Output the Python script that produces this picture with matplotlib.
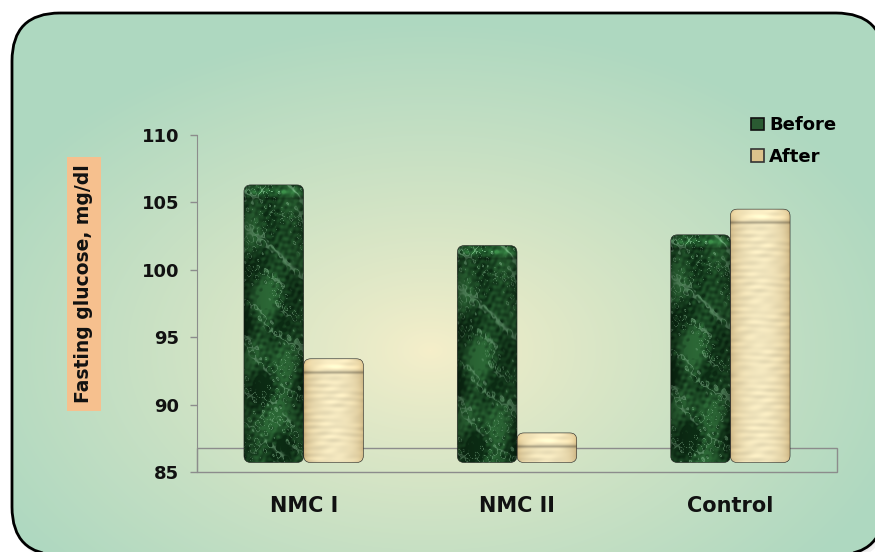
import matplotlib.pyplot as plt
import numpy as np
from matplotlib.patches import FancyBboxPatch, Patch, Polygon, Rectangle

# fasting glucose (mg/dl) per group
groups = ['NMC I', 'NMC II', 'Control']
before = [106.3, 101.8, 102.6]
after = [93.4, 87.9, 104.5]
y_ticks = [85, 90, 95, 100, 105, 110]

W, H = 875, 552
FLOOR = 85.7        # bars stand on the floor of the 3-D box
FLOOR_TOP = 86.75

plt.rcParams['font.family'] = ['DejaVu Sans']
plt.rcParams['font.weight'] = 'bold'

fig = plt.figure(figsize=(W / 100, H / 100), dpi=100)
fig.patch.set_facecolor('white')

# ---- rounded background panel with a radial gradient ----
bg = fig.add_axes([0, 0, 1, 1])
bg.axis('off')
bg.set_xlim(0, W)
bg.set_ylim(H, 0)

yy, xx = np.mgrid[0:H, 0:W]
d = np.sqrt(((xx - 430) / 500) ** 2 + ((yy - 350) / 330) ** 2)
d = np.clip(d, 0, 1) ** 0.85
c_in = np.array([246, 239, 202]) / 255
c_out = np.array([174, 216, 192]) / 255
grad = c_in + (c_out - c_in) * d[..., None]


def rounded_outline(x0, y0, w, h, r=48):
    # flatten the rounded box into a plain polygon (avoids curve clipping at the canvas edge)
    box = FancyBboxPatch((x0, y0), w, h, boxstyle=f'round,pad=0,rounding_size={r}')
    return box.get_path().to_polygons()[0]


for k, a in enumerate([0.08, 0.08, 0.10]):
    bg.add_patch(Polygon(rounded_outline(11 + 2 * k, 14 + 2 * k, 872, 542),
                         closed=True, fc='#808080', ec='none', alpha=a,
                         zorder=0, clip_on=False))
panel = Polygon(rounded_outline(12, 13, 872, 542), closed=True, fc='none',
                ec='black', lw=2, zorder=3, clip_on=False)
bg.add_patch(panel)
im = bg.imshow(grad, extent=(0, W, H, 0), aspect='auto', zorder=1)
im.set_clip_path(panel)
bg.set_xlim(0, W)
bg.set_ylim(H, 0)

# ---- chart axes ----
ax = fig.add_axes([197 / W, 1 - 472 / H, (837 - 197) / W, (472 - 135) / H])
ax.patch.set_alpha(0)
ax.set_xlim(-0.5, 2.5)
ax.set_ylim(85, 110)

p0 = ax.transData.transform((0, 85))
p1 = ax.transData.transform((1, 86))
px_x = p1[0] - p0[0]
px_y = p1[1] - p0[1]

# fixed wave sets used to build the bar textures
VEIN_WAVES = [(0.071, 0.043, 0.3), (-0.052, 0.089, 1.7), (0.113, -0.061, 2.9),
              (0.031, 0.127, 4.1), (-0.097, -0.037, 5.3)]
FINE_WAVES = [(0.61, 0.37, 0.2), (-0.43, 0.71, 1.1), (0.83, -0.29, 2.3),
              (0.27, 0.93, 3.7), (-0.77, -0.53, 4.4), (1.13, 0.41, 5.9),
              (0.19, -1.07, 0.8)]


def waves(xx, yy, table):
    n = sum(np.sin(fx * xx + fy * yy + ph) for fx, fy, ph in table)
    return n / np.sqrt(len(table) / 2)


def side_shade(h, w, lo=0.55, power=0.45, glow=0.45):
    yy, xx = np.mgrid[0:h, 0:w].astype(float)
    u = (xx + 0.5) / w
    s = lo + (1 - lo) * np.sin(np.pi * u) ** power
    cap = (1 + glow * np.exp(-((yy - 6) / 3.5) ** 2)
           - 0.25 * np.exp(-((yy - 13) / 1.5) ** 2))
    return s * cap


def marble(h, w):
    yy, xx = np.mgrid[0:h, 0:w].astype(float)
    warp = 6 * waves(xx, yy, FINE_WAVES[:3])
    vein_field = waves(xx + warp, yy + warp, VEIN_WAVES)
    vein = np.exp(-(vein_field / 0.18) ** 2)
    blotch = 0.5 + 0.3 * waves(xx * 0.15, yy * 0.1, FINE_WAVES[2:])
    speck = blotch + 0.15 * waves(xx, yy, FINE_WAVES)
    dark = np.array([12, 44, 20]) / 255
    mid = np.array([44, 104, 54]) / 255
    light = np.array([140, 190, 150]) / 255
    base = dark + (mid - dark) * np.clip(speck, 0, 1)[..., None]
    img = base + (light - base) * (0.5 * vein)[..., None]
    img = img * side_shade(h, w)[..., None]
    return np.clip(img, 0, 1)


def paper(h, w):
    yy, xx = np.mgrid[0:h, 0:w].astype(float)
    grain = (0.02 * np.sin(0.9 * yy + 0.6 * np.sin(0.07 * xx))
             + 0.015 * waves(xx * 0.3, yy, FINE_WAVES))
    base = np.array([242, 230, 190]) / 255
    edge = np.array([200, 166, 104]) / 255
    u = (xx + 0.5) / w
    t = np.clip(1 - np.sin(np.pi * u) ** 0.3, 0, 1)
    img = base + (edge - base) * t[..., None]
    img = img * (1 + grain)[..., None]
    img = img * side_shade(h, w, lo=0.92, power=0.3, glow=0.08)[..., None]
    return np.clip(img, 0, 1)


def draw_bar(rect, tex):
    x0, y0 = rect.get_xy()
    w, h = rect.get_width(), rect.get_height()
    shape = FancyBboxPatch((x0, y0), w, h,
                           boxstyle=f'round,pad=0,rounding_size={7 / px_x}',
                           mutation_aspect=px_x / px_y,
                           fc='none', ec='#202020', lw=0.4, zorder=4)
    ax.add_patch(shape)
    img = tex(int(round(h * px_y)), int(round(w * px_x)))
    bar_im = ax.imshow(img, extent=(x0, x0 + w, y0, y0 + h), aspect='auto',
                       interpolation='bilinear', zorder=3)
    bar_im.set_clip_path(shape)


x = np.arange(len(groups))
bw = 0.28
bars_before = ax.bar(x - bw / 2, np.array(before) - FLOOR, bw, bottom=FLOOR, color='none')
bars_after = ax.bar(x + bw / 2, np.array(after) - FLOOR, bw, bottom=FLOOR, color='none')
for r in bars_before:
    draw_bar(r, marble)
for r in bars_after:
    draw_bar(r, paper)

# floor of the 3-D box
ax.add_patch(Rectangle((-0.5, 85), 3, FLOOR_TOP - 85, fill=False,
                       ec='#8c8c8c', lw=1, zorder=2, clip_on=False))

ax.set_xlim(-0.5, 2.5)
ax.set_ylim(85, 110)
for s in ['top', 'right', 'bottom']:
    ax.spines[s].set_visible(False)
ax.spines['left'].set_color('#8c8c8c')

ax.set_yticks(y_ticks)
ax.tick_params(axis='y', length=5, color='#8c8c8c', width=1, pad=8,
               labelsize=13, labelcolor='#111111')
ax.set_xticks(x, groups)
ax.tick_params(axis='x', length=0, pad=17, labelsize=15, labelcolor='#111111')

handles = [Patch(fc='#2a5a32', ec='#111111', lw=1.2, label='Before'),
           Patch(fc='#dcc38c', ec='#333333', lw=1.2, label='After')]
fig.legend(handles=handles, loc='upper left', bbox_to_anchor=(735 / W, 1 - 100 / H),
           frameon=False, fontsize=13, handlelength=0.7, handleheight=0.7,
           handletextpad=0.3, labelspacing=0.75)

fig.text(83.5 / W, 1 - 284 / H, 'Fasting glucose, mg/dl', rotation=90,
         ha='center', va='center', fontsize=13.5, color='#111111',
         bbox=dict(boxstyle='square,pad=0.4', fc='#f6c08e', ec='none'))

fig.savefig('out.png', dpi=100)
